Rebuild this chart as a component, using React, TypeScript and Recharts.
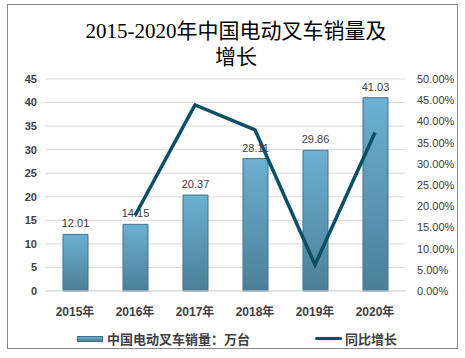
import React from 'react';
import { ComposedChart, Bar, Line, XAxis, YAxis, CartesianGrid, LabelList } from 'recharts';

const years = ['2015年', '2016年', '2017年', '2018年', '2019年', '2020年'];
const sales = [12.01, 14.15, 20.37, 28.11, 29.86, 41.03];
const growth = [null, 0.178, 0.439, 0.38, 0.062, 0.374];
const leftTicks = [0, 5, 10, 15, 20, 25, 30, 35, 40, 45];
const rightTicks = [0, 0.05, 0.1, 0.15, 0.2, 0.25, 0.3, 0.35, 0.4, 0.45, 0.5];

const data = years.map((y, i) => ({ year: y, sales: sales[i], growth: growth[i] }));

const FONT = '"Liberation Sans", Arial, "Noto Sans CJK SC", sans-serif';

export default function App() {
  return (
    <div style={{ position: 'absolute', left: 0, top: 0, width: 465, height: 358, background: '#fff', fontFamily: FONT }}>
      <div style={{ position: 'absolute', left: 7, top: 4, width: 449, height: 343, border: '1px solid #8a8a8a' }} />
      <div
        style={{
          position: 'absolute',
          left: 0,
          top: 18,
          width: 472,
          textAlign: 'center',
          fontFamily: '"Liberation Serif", "Noto Sans CJK SC", serif',
          fontSize: 21,
          lineHeight: '26px',
          color: '#000',
        }}
      >
        2015-2020年中国电动叉车销量及
        <br />
        增长
      </div>
      <div style={{ position: 'absolute', left: 0, top: 0 }}>
        <ComposedChart width={465} height={358} data={data} margin={{ top: 79, right: 5, left: 5, bottom: 37 }}>
          <defs>
            <linearGradient id="barFill" x1="0" y1="0" x2="0" y2="1">
              <stop offset="0%" stopColor="#6cb0d2" />
              <stop offset="100%" stopColor="#4b7f97" />
            </linearGradient>
          </defs>
          <CartesianGrid yAxisId="left" vertical={false} stroke="#d9d9d9" />
          <XAxis
            dataKey="year"
            height={30}
            tickLine={false}
            axisLine={{ stroke: '#d9d9d9' }}
            tick={{ fill: '#404040', fontSize: 12, fontWeight: 'bold', fontFamily: FONT }}
            tickMargin={10}
          />
          <YAxis
            yAxisId="left"
            width={40}
            domain={[0, 45]}
            ticks={leftTicks}
            interval={0}
            tickLine={false}
            axisLine={false}
            tick={{ fill: '#404040', fontSize: 11, fontWeight: 'bold', fontFamily: FONT }}
          />
          <YAxis
            yAxisId="right"
            orientation="right"
            width={55}
            domain={[0, 0.5]}
            ticks={rightTicks}
            interval={0}
            tickLine={false}
            axisLine={false}
            tickMargin={6}
            tickFormatter={(v: number) => `${(v * 100).toFixed(2)}%`}
            tick={{ fill: '#404040', fontSize: 11, fontFamily: FONT, textAnchor: 'start' }}
          />
          <Bar yAxisId="left" dataKey="sales" barSize={25} fill="url(#barFill)" stroke="#41728a" strokeWidth={1} isAnimationActive={false}>
            <LabelList dataKey="sales" position="top" offset={7} fill="#404040" fontSize={11} fontFamily={FONT} />
          </Bar>
          <Line
            yAxisId="right"
            dataKey="growth"
            stroke="#0b4f66"
            strokeWidth={3.5}
            dot={false}
            type="linear"
            connectNulls={false}
            isAnimationActive={false}
          />
        </ComposedChart>
      </div>
      <div style={{ position: 'absolute', left: 77, top: 329, display: 'flex', alignItems: 'center', fontSize: 13, fontWeight: 'bold', color: '#404040' }}>
        <span style={{ display: 'inline-block', width: 26, height: 6, background: 'linear-gradient(#6cb0d2, #4b7f97)', border: '1px solid #41728a', boxSizing: 'border-box', marginRight: 4 }} />
        <span>中国电动叉车销量：万台</span>
      </div>
      <div style={{ position: 'absolute', left: 315, top: 329, display: 'flex', alignItems: 'center', fontSize: 13, fontWeight: 'bold', color: '#404040' }}>
        <span style={{ display: 'inline-block', width: 27, height: 3.5, background: '#0b4f66', marginRight: 3, borderRadius: 2 }} />
        <span>同比增长</span>
      </div>
    </div>
  );
}
